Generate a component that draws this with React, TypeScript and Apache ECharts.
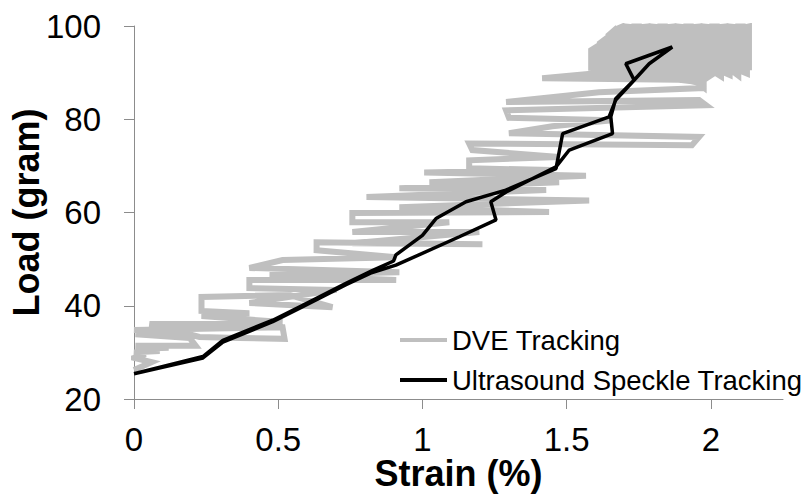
import React, { useEffect, useRef } from "react";
import * as echarts from "echarts";

const xTicks = [0, 0.5, 1, 1.5, 2];
const yTicks = [20, 40, 60, 80, 100];

// DVE tracking: staircase part (strain %, load g)
const dveStairStrain = [
  0.0, 0.061, 0.0, 0.04, 0.0, 0.089, 0.005, 0.12, 0.005, 0.214, 0.193, 0.005, 0.15, 0.0, 0.515, 0.522, 0.366, 0.227, 0.054, 0.515,
  0.234, 0.4, 0.234, 0.234, 0.539, 0.688, 0.4, 0.702, 0.4, 0.4, 0.909, 0.47, 0.92, 0.4, 0.515, 0.909,
  0.633, 0.633, 1.208, 0.757, 1.197, 0.757, 1.093, 0.757, 0.757, 1.439, 0.92, 1.578, 0.806, 1.429,
  0.92, 1.474, 1.024, 1.567, 1.006, 1.449, 1.162, 1.162, 1.474, 1.173, 1.162, 1.934, 1.959, 1.3,
  1.45, 1.657, 1.3, 1.29, 1.983, 1.959, 1.29, 1.612, 1.969, 1.969, 1.415, 1.612, 1.959,
];
const dveStairLoad = [
  26.2, 27.9, 28.8, 29.6, 30.0, 30.3, 30.7, 31.0, 31.4, 31.4, 33.1, 33.9, 34.2, 34.8, 35.4, 32.9, 33.1, 33.3, 36.1, 36.5,
  37.8, 38.4, 38.9, 41.9, 42.3, 39.7, 40.6, 43.4, 43.8, 45.5, 45.5, 46.6, 47.2, 48.1, 49.8, 50.4,
  51.9, 53.6, 53.2, 53.4, 55.8, 55.8, 57.9, 57.9, 59.9, 60.1, 61.1, 62.6, 63.3, 64.8,
  65.2, 66.5, 66.5, 67.9, 68.6, 69.1, 69.5, 71.2, 71.9, 73.4, 74.8, 74.4, 76.2, 77.0,
  78.5, 79.8, 80.3, 81.9, 83.0, 84.1, 83.7, 85.8, 86.7, 88.4, 88.8, 89.9, 89.2,
];

// DVE tracking: dense oscillation near the top (strain %, load g)
const dveTopStrain = [
  1.585, 1.585, 1.6, 1.6, 1.615, 1.615, 1.63, 1.63, 1.645, 1.645, 1.66, 1.66, 1.675, 1.675,
  1.69, 1.69, 1.705, 1.705, 1.72, 1.72, 1.735, 1.735, 1.75, 1.75, 1.765, 1.765, 1.78, 1.78,
  1.795, 1.795, 1.81, 1.81, 1.825, 1.825, 1.84, 1.84, 1.855, 1.855, 1.87, 1.87, 1.885, 1.885,
  1.9, 1.9, 1.915, 1.915, 1.93, 1.93, 1.945, 1.945, 1.96, 1.96, 1.975, 1.975, 1.99, 1.99,
  2.005, 2.005, 2.02, 2.02, 2.035, 2.035, 2.05, 2.05, 2.065, 2.065, 2.08, 2.08, 2.095, 2.095,
  2.11, 2.11, 2.125, 2.125, 2.132, 2.132,
];
const dveTopLoad = [
  91.0, 94.8, 95.4, 90.8, 90.6, 96.3, 97.0, 90.4, 90.2, 98.0, 98.8, 90.0, 89.8, 99.4,
  99.8, 89.6, 89.5, 99.9, 99.8, 89.4, 89.3, 99.9, 99.9, 89.2, 89.1, 99.8, 99.9, 89.0,
  89.0, 99.9, 99.8, 88.9, 89.2, 99.9, 99.9, 88.8, 88.7, 99.8, 99.9, 88.6, 88.5, 99.9,
  99.8, 88.4, 88.3, 99.9, 99.9, 88.2, 88.0, 99.8, 99.9, 87.5, 86.8, 99.9, 99.8, 89.0,
  89.6, 99.9, 99.9, 89.8, 89.2, 99.8, 99.9, 89.9, 89.5, 99.9, 99.8, 90.1, 89.4, 99.9,
  99.9, 90.2, 89.8, 99.8, 99.9, 90.5,
];

// Ultrasound speckle tracking: loading and unloading paths
const usUpStrain = [
  0, 0.239, 0.308, 0.481, 0.585, 0.735, 0.828, 0.9, 0.908, 1.0, 1.047, 1.151, 1.289, 1.463,
  1.486, 1.647, 1.67, 1.728, 1.786, 1.866,
];
const usUpLoad = [
  25.4, 29.1, 32.6, 36.9, 40.1, 44.8, 47.6, 49.6, 50.9, 55.1, 58.7, 62.3, 64.8, 69.4,
  76.9, 80.5, 84.1, 88.0, 91.9, 95.5,
];
const usDownStrain = [
  1.705, 1.734, 1.67, 1.653, 1.659, 1.509, 1.463, 1.29, 1.237, 1.255, 1.128, 0.908, 0.82,
  0.735, 0.585, 0.481, 0.308, 0.239, 0,
];
const usDownLoad = [
  91.9, 88.4, 84.4, 80.5, 76.9, 73.4, 69.8, 64.4, 62.3, 58.4, 54.8, 48.7, 47.0,
  44.5, 39.8, 36.6, 32.2, 28.8, 25.4,
];

const zip = (xs: number[], ys: number[]) => xs.map((x, i) => [x, ys[i]]);

const FONT = "'Liberation Sans', Arial, sans-serif";

export default function App() {
  const ref = useRef<HTMLDivElement>(null);
  useEffect(() => {
    if (!ref.current) return;
    const chart = echarts.init(ref.current, undefined, { renderer: "svg" });
    const dve = [...zip(dveStairStrain, dveStairLoad), ...zip(dveTopStrain, dveTopLoad)];
    const us = [...zip(usUpStrain, usUpLoad), ...zip(usDownStrain, usDownLoad)];
    chart.setOption({
      animation: false,
      backgroundColor: "#ffffff",
      grid: { left: 134, right: 24, top: 26, bottom: 96, containLabel: false, outerBoundsMode: "none" },
      legend: {
        orient: "vertical",
        left: 395,
        top: 320,
        itemWidth: 47,
        itemHeight: 4,
        itemGap: 10,
        textStyle: { fontSize: 27.5, fontFamily: FONT, color: "#000", lineHeight: 30 },
        data: [
          { name: "DVE Tracking", icon: "rect" },
          { name: "Ultrasound Speckle Tracking", icon: "rect" },
        ],
      },
      xAxis: {
        type: "value",
        min: 0,
        max: 2.25,
        interval: 0.5,
        name: "Strain (%)",
        nameLocation: "middle",
        nameGap: 56,
        nameMoveOverlap: false,
        nameTextStyle: { fontSize: 36, fontWeight: "bold", fontFamily: FONT, color: "#000" },
        axisLine: { show: true, lineStyle: { color: "#8c8c8c", width: 1 } },
        axisTick: { show: true, length: 10, customValues: xTicks, lineStyle: { color: "#8c8c8c" } },
        axisLabel: { customValues: xTicks, fontSize: 33, fontFamily: FONT, color: "#000", margin: 24 },
        splitLine: { show: false },
      },
      yAxis: {
        type: "value",
        min: 20,
        max: 100,
        interval: 20,
        name: "Load (gram)",
        nameLocation: "middle",
        nameGap: 90,
        nameMoveOverlap: false,
        nameTextStyle: { fontSize: 36, fontWeight: "bold", fontFamily: FONT, color: "#000" },
        axisLine: { show: true, lineStyle: { color: "#8c8c8c", width: 1 } },
        axisTick: { show: true, length: 10, customValues: yTicks, lineStyle: { color: "#8c8c8c" } },
        axisLabel: { customValues: yTicks, fontSize: 33, fontFamily: FONT, color: "#000", margin: 33 },
        splitLine: { show: false },
      },
      series: [
        {
          name: "DVE Tracking",
          type: "line",
          data: dve,
          showSymbol: false,
          symbol: "none",
          lineStyle: { color: "#bfbfbf", width: 6, join: "miter", cap: "butt" },
          itemStyle: { color: "#bfbfbf" },
        },
        {
          name: "Ultrasound Speckle Tracking",
          type: "line",
          data: us,
          showSymbol: false,
          symbol: "none",
          lineStyle: { color: "#000000", width: 3.5 },
          itemStyle: { color: "#000000" },
        },
      ],
    });
    return () => chart.dispose();
  }, []);
  return (
    <div
      ref={ref}
      style={{ position: "fixed", left: 0, top: 0, width: 807, height: 495 }}
    />
  );
}
